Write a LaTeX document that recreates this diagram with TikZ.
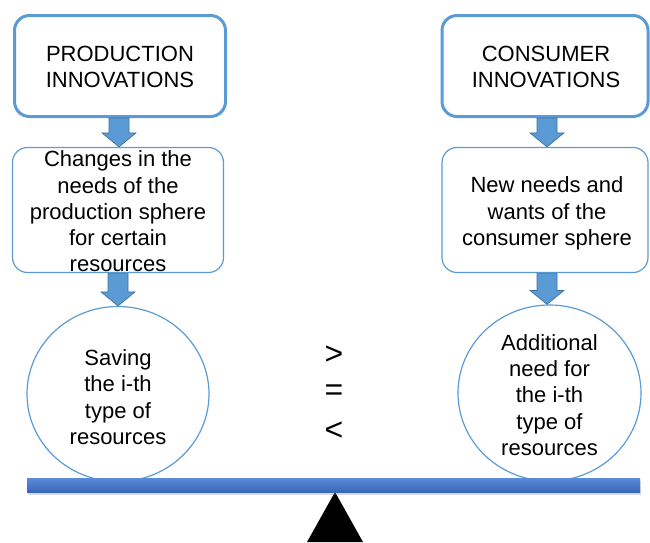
\documentclass[tikz,border=0pt]{standalone}
\usepackage{fontspec}
\setmainfont{Liberation Sans}
\usetikzlibrary{shapes.geometric,calc,shadows}
\definecolor{accent}{HTML}{5B9BD5}
\definecolor{accentdark}{HTML}{41719C}
\definecolor{beamtop}{HTML}{5B8BD9}
\definecolor{beambot}{HTML}{3A66BA}
\begin{document}
\begin{tikzpicture}[x=1pt,y=-1pt,
  txt/.style={font=\fontsize{22}{26.3}\selectfont, align=center, text=black, inner sep=0pt},
  headbox/.style={draw=accent, line width=3pt, rounded corners=15pt, fill=white,
    minimum width=#1, minimum height=101pt, inner sep=0pt},
  needbox/.style={draw=accent, line width=1.2pt, rounded corners=15pt, fill=white,
    minimum width=#1, minimum height=125pt, inner sep=0pt},
  resource/.style={ellipse, draw=accent, line width=1.2pt, fill=white, inner sep=0pt},
  relsign/.style={font=\fontsize{32}{34}\selectfont, text=black, inner sep=0pt},
  blockarrow/.style={fill=accent, draw=accentdark, line width=0.7pt,
    to path={let \p1=(\tikztostart), \p2=(\tikztotarget) in
      (\x1-10pt,\y1) -- (\x1+10pt,\y1) -- (\x1+10pt,\y2+14pt) -- (\x1+17pt,\y2+14pt)
      -- (\x1,\y2) -- (\x1-17pt,\y2+14pt) -- (\x1-10pt,\y2+14pt) -- cycle}}
]
\useasboundingbox (0,0) rectangle (650,542);

% production side
\node[headbox=211pt] (pt) at (120,66) {};
\node[needbox=211pt] (pn) at (118,210) {};
\node[resource, minimum width=182pt, minimum height=175pt] (ps) at (118,394) {};
\node[txt] (ptlabel) at ([yshift=-1pt]pt.center) {PRODUCTION\\INNOVATIONS};
\node[txt] (pnlabel) at ([yshift=-1.5pt]pn.center) {Changes in the\\needs of the\\production sphere\\for certain\\resources};
\node[txt] (pslabel) at ([yshift=-3pt]ps.center) {Saving\\the i-th\\type of\\resources};

% consumer side
\node[headbox=206pt] (ct) at (545,66) {};
\node[needbox=206pt] (cn) at (545,210) {};
\node[resource, minimum width=183pt, minimum height=176pt] (cs) at (549.5,393) {};
\node[txt] (ctlabel) at ([xshift=1pt,yshift=-1pt]ct.center) {CONSUMER\\INNOVATIONS};
\node[txt] (cnlabel) at ([xshift=2pt,yshift=-3.5pt]cn.center) {New needs and\\wants of the\\consumer sphere};
\node[txt] (cslabel) at ([yshift=-2pt]cs.center) {Additional\\need for\\the i-th\\type of\\resources};

% block arrows
\draw[blockarrow] ([xshift=-1pt]pt.south) to (pn.north);
\draw[blockarrow] (pn.south) to (ps.north);
\draw[blockarrow] ([xshift=2pt]ct.south) to ([xshift=2pt]cn.north);
\draw[blockarrow] ([xshift=2pt]cn.south) to ([xshift=2pt]cs.north);

% comparison signs
\node[relsign] (gt) at (334,355) {>};
\node[relsign] (eq) at (334,393) {=};
\node[relsign] (lt) at (334,431) {<};

% fulcrum and balance beam
\fill[black] (335,492) -- (363,542) -- (307,542) -- cycle;
\node[draw=none, inner sep=0pt, minimum width=613pt, minimum height=14pt,
  top color=beamtop, bottom color=beambot,
  drop shadow={shadow xshift=1pt, shadow yshift=-3pt, opacity=0.3}] (beam) at (333.5,485) {};
\end{tikzpicture}
\end{document}
